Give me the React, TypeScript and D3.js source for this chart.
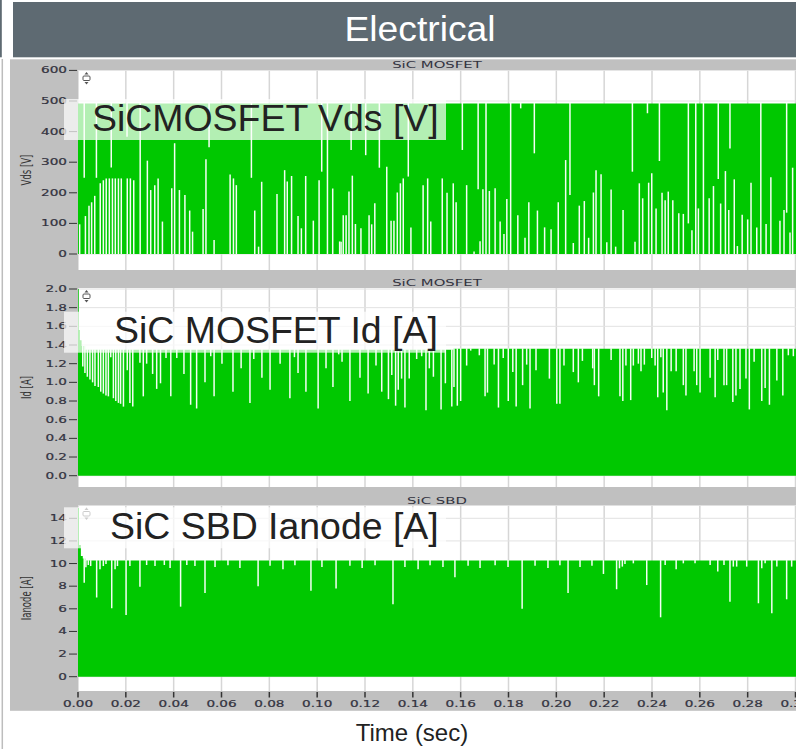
import React from 'react';
import * as d3 from 'd3';

// x axis (time, sec)
const timeTicks = [0, 0.02, 0.04, 0.06, 0.08, 0.1, 0.12, 0.14, 0.16, 0.18, 0.2, 0.22, 0.24, 0.26, 0.28, 0.3];

// y ticks per panel
const vdsTicks = [0, 100, 200, 300, 400, 500, 600];
const idTicks = [0, 0.2, 0.4, 0.6, 0.8, 1.0, 1.2, 1.4, 1.6, 1.8, 2.0];
const anodeTicks = [0, 2, 4, 6, 8, 10, 12, 14];

// upper envelope of the switching waveform [t, value]
const vdsEnvelope: [number, number][] = [[0, 492], [0.302, 492]];
const idEnvelope: [number, number][] = [
  [0, 2.0], [0.0003, 1.56], [0.0008, 1.45], [0.0015, 1.39], [0.003, 1.35], [0.155, 1.35], [0.157, 1.36], [0.302, 1.36],
];
const anodeEnvelope: [number, number][] = [
  [0, 14.9], [0.0004, 11.65], [0.0012, 10.67], [0.002, 10.45], [0.003, 10.26], [0.302, 10.26],
];

// Vds: white gaps from 0 up to level [t, level]
const vdsLowGaps: [number, number][] = [
  [0.0007, 97], [0.0031, 124], [0.0046, 158], [0.0057, 169], [0.007, 190], [0.0093, 231], [0.0106, 241], [0.0118, 247],
  [0.0131, 247], [0.0144, 247], [0.0156, 247], [0.0169, 247], [0.0181, 247], [0.0206, 247], [0.0219, 247], [0.0233, 241],
  [0.029, 305], [0.0304, 209], [0.0321, 225], [0.0335, 247], [0.0353, 106], [0.0392, 215], [0.0404, 362], [0.0424, 209],
  [0.0447, 193], [0.0467, 142], [0.0479, 73], [0.0523, 147], [0.0535, 310], [0.0569, 46], [0.0636, 260], [0.065, 247],
  [0.0662, 225], [0.0739, 142], [0.0755, 24], [0.0768, 236], [0.0832, 196], [0.0864, 274], [0.0875, 237], [0.0893, 255],
  [0.092, 124], [0.0934, 84], [0.0952, 255], [0.0984, 109], [0.1008, 241], [0.1065, 214], [0.1094, 41],
  [0.11, 40], [0.1109, 127], [0.1121, 127], [0.1133, 204], [0.1147, 256], [0.116, 98], [0.1183, 84], [0.1217, 127],
  [0.1228, 97], [0.1241, 166], [0.1291, 285], [0.1309, 109], [0.1321, 109], [0.1335, 201], [0.1348, 231], [0.136, 247],
  [0.1392, 87], [0.1443, 225], [0.1462, 247], [0.1475, 106], [0.1523, 247], [0.1543, 200], [0.1569, 231], [0.1581, 169],
  [0.1625, 225], [0.1656, 8], [0.1681, 42], [0.1693, 212], [0.172, 206], [0.1744, 215], [0.1765, 106], [0.1781, 65],
  [0.1793, 180], [0.1839, 127], [0.1869, 53], [0.1885, 169], [0.1921, 142], [0.1951, 87], [0.1978, 81], [0.2008, 169],
  [0.2039, 307], [0.2071, 36], [0.2096, 158], [0.2117, 173], [0.2135, 53], [0.2155, 201], [0.2166, 274],
  [0.2187, 261], [0.2211, 38], [0.2229, 211], [0.2248, 24], [0.2279, 144], [0.2329, 40], [0.2347, 231], [0.2361, 182],
  [0.2386, 233], [0.2399, 264], [0.2417, 149], [0.2442, 200], [0.2455, 176], [0.2468, 204], [0.2487, 176], [0.2512, 133],
  [0.2531, 131], [0.2567, 78], [0.2594, 149], [0.2639, 182], [0.2657, 222], [0.2687, 165], [0.2707, 271], [0.2721, 144],
  [0.2744, 244], [0.2757, 26], [0.2777, 128], [0.28, 113], [0.2814, 233], [0.2838, 87], [0.2877, 98], [0.2897, 251],
  [0.2935, 109], [0.2952, 144], [0.2977, 70], [0.2988, 282],
];
// Vds: white gaps from level up to the envelope (0 = full height)
const vdsHighGaps: [number, number][] = [
  [0.0026, 249], [0.0077, 249], [0.0139, 283], [0.0205, 383], [0.026, 0], [0.0548, 349], [0.0725, 249], [0.1019, 269],
  [0.1043, 0], [0.1142, 340], [0.1203, 323], [0.126, 282], [0.1381, 253], [0.1607, 340], [0.1673, 212], [0.1706, 0],
  [0.1809, 0], [0.1851, 476], [0.1908, 329], [0.2057, 193], [0.2318, 269], [0.2381, 460], [0.2431, 304], [0.2552, 100],
  [0.2583, 0], [0.2615, 0], [0.2677, 245], [0.2726, 345], [0.2855, 0], [0.2963, 135],
];

// Id: white gaps from level up to the envelope
const idGaps: [number, number][] = [
  [0.002, 1.17], [0.0029, 1.1], [0.0039, 1.06], [0.005, 1.03], [0.0061, 1.0], [0.0071, 0.96], [0.0085, 0.95], [0.0095, 0.9],
  [0.0106, 0.88], [0.0117, 0.86], [0.0127, 0.85], [0.0137, 1.27], [0.0148, 0.83], [0.0158, 0.8], [0.0169, 0.78], [0.0178, 0.77],
  [0.019, 0.74], [0.0206, 1.13], [0.0217, 0.78], [0.0229, 0.74], [0.0259, 1.21], [0.0273, 0.85], [0.0287, 1.2], [0.0312, 1.09],
  [0.0329, 0.93], [0.0345, 0.99], [0.0368, 1.26], [0.0388, 0.85], [0.0413, 1.26], [0.0443, 1.09], [0.0471, 0.76], [0.0496, 0.72],
  [0.0531, 1.0], [0.0555, 1.28], [0.0569, 0.85], [0.0602, 1.2], [0.0648, 0.9], [0.0682, 1.15], [0.0719, 0.78], [0.0735, 1.25],
  [0.0769, 1.05], [0.0803, 0.92], [0.0845, 1.2], [0.0886, 0.83], [0.0905, 1.27], [0.092, 1.1], [0.0953, 0.9], [0.1004, 0.72],
  [0.1037, 1.15], [0.1066, 0.95], [0.109, 1.3], [0.1104, 1.22], [0.1137, 0.8], [0.1179, 1.05], [0.1213, 0.88], [0.1246, 1.18],
  [0.127, 0.9], [0.1298, 0.82], [0.1312, 1.08], [0.1328, 0.75], [0.1339, 0.92], [0.1353, 1.04], [0.1367, 0.73], [0.1385, 1.04],
  [0.1416, 1.25], [0.1437, 1.28], [0.1455, 0.7], [0.1469, 1.15], [0.1486, 1.06], [0.1518, 0.71], [0.1536, 0.99], [0.1563, 0.74],
  [0.1572, 0.95], [0.1586, 0.75], [0.16, 0.8], [0.1625, 1.18], [0.1642, 1.34], [0.1678, 1.29], [0.1702, 0.85], [0.1712, 0.89],
  [0.174, 1.19], [0.1758, 0.73], [0.1778, 1.26], [0.1799, 0.8], [0.1818, 1.11], [0.1832, 0.74], [0.1859, 0.97], [0.1876, 1.19],
  [0.189, 0.72], [0.1915, 1.13], [0.1971, 1.04], [0.2002, 0.77], [0.2015, 0.77], [0.2032, 1.18], [0.2071, 1.11], [0.2092, 1.0],
  [0.2109, 1.23], [0.2152, 1.15], [0.2159, 0.97], [0.2177, 0.85], [0.2229, 1.24], [0.2266, 0.85], [0.2278, 0.8], [0.2291, 1.18],
  [0.2311, 0.81], [0.2322, 1.18], [0.2343, 1.2], [0.2354, 1.12], [0.2368, 1.19], [0.2399, 1.26], [0.2413, 1.18], [0.2424, 0.84],
  [0.2437, 1.27], [0.2447, 0.89], [0.2462, 0.7], [0.248, 1.12], [0.2501, 1.12], [0.2531, 0.97], [0.2542, 0.86], [0.2576, 1.12],
  [0.2587, 0.97], [0.2601, 0.89], [0.2643, 1.05], [0.2664, 0.84], [0.2675, 1.24], [0.2701, 0.97], [0.2712, 0.97], [0.2738, 0.79],
  [0.2751, 0.86], [0.2768, 0.93], [0.2793, 1.04], [0.2807, 0.71], [0.2827, 1.22], [0.2859, 0.8], [0.2873, 0.94], [0.2891, 0.76],
  [0.2922, 1.02], [0.2947, 0.86], [0.297, 1.29], [0.2991, 1.28],
];

// Ianode: white gaps from level up to the envelope
const anodeGaps: [number, number][] = [
  [0.0026, 8.3], [0.0033, 9.67], [0.0043, 9.87], [0.0053, 9.78], [0.0078, 7.0], [0.0092, 9.5], [0.0106, 9.78], [0.0117, 9.95],
  [0.0141, 6.05], [0.0155, 9.5], [0.0165, 9.78], [0.0201, 5.45], [0.0217, 9.78], [0.0259, 7.96], [0.0287, 9.87], [0.0322, 9.78],
  [0.0361, 9.87], [0.0385, 9.6], [0.0429, 6.19], [0.0455, 9.87], [0.0489, 9.78], [0.0531, 7.4], [0.0573, 9.7], [0.0627, 9.85],
  [0.0677, 9.6], [0.0753, 8.0], [0.0803, 9.8], [0.0857, 9.5], [0.0907, 9.85], [0.0974, 7.6], [0.102, 9.7], [0.1079, 7.8],
  [0.1137, 9.8], [0.1188, 9.6], [0.1242, 9.85], [0.1317, 6.4], [0.1367, 9.7], [0.1422, 9.5], [0.1472, 9.85], [0.1526, 9.7],
  [0.1576, 8.8], [0.1631, 9.8], [0.1681, 9.6], [0.1744, 9.85], [0.1798, 9.7], [0.1857, 6.0], [0.1911, 9.8], [0.1965, 9.6],
  [0.2015, 9.85], [0.2049, 7.4], [0.2099, 9.7], [0.2149, 9.8], [0.2197, 9.08], [0.2252, 7.73], [0.2264, 9.58], [0.2276, 9.73],
  [0.2287, 9.97], [0.2322, 10.02], [0.2378, 8.1], [0.2436, 5.25], [0.2455, 9.87], [0.2501, 9.5], [0.2531, 10.02], [0.258, 10.02],
  [0.2643, 9.87], [0.2675, 9.29], [0.2701, 9.87], [0.2726, 6.63], [0.274, 9.73], [0.2754, 9.73], [0.2796, 9.73], [0.2845, 6.49],
  [0.2859, 9.58], [0.2873, 10.02], [0.2901, 5.6], [0.2922, 9.73], [0.2963, 6.84], [0.2984, 9.73],
];

const GREEN = '#00c800';
const GAP = '#f4fff4';
const TICK_TEXT = '#33333f';
const SMALL_FONT = 'DejaVu Sans';
const BIG_FONT = 'Liberation Sans, Arial, sans-serif';
const SX = 1.6; // the screenshot is stretched horizontally

const x = d3.scaleLinear().domain([0, 0.3]).range([78, 795.5]);

type PanelProps = {
  id: string;
  title: string;
  titleY: number;
  label: string;
  ticks: number[];
  fmt: (v: number) => string;
  y: d3.ScaleLinear<number, number>;
  plotTop: number;
  plotBottom: number;
  envelope: [number, number][];
  lowGaps: [number, number][];
  highGaps: [number, number][];
  boxY: number;
  boxText: string;
  boxTextX: number;
};

function envAt(env: [number, number][], t: number) {
  const i = d3.bisector((d: [number, number]) => d[0]).right(env, t) - 1;
  return env[Math.max(0, i)][1];
}

function Panel(p: PanelProps) {
  const area = d3
    .area<[number, number]>()
    .x((d) => x(d[0]))
    .y0(p.y(0))
    .y1((d) => p.y(d[1]))
    .curve(d3.curveStepAfter);
  const iconY = p.plotTop + 8;
  return (
    <g>
      <defs>
        <clipPath id={`clip-${p.id}`}>
          <rect x={78} y={p.plotTop} width={718} height={p.plotBottom - p.plotTop} />
        </clipPath>
      </defs>
      <text
        transform={`translate(437,${p.titleY}) scale(1.75,1)`}
        textAnchor="middle"
        fontFamily={SMALL_FONT}
        fontSize={8.5}
        fill={TICK_TEXT}
      >
        {p.title}
      </text>
      <rect x={78} y={p.plotTop} width={718} height={p.plotBottom - p.plotTop} fill="#ffffff" />
      <g clipPath={`url(#clip-${p.id})`}>
        {timeTicks.map((t) => (
          <line key={`vx${t}`} x1={x(t)} x2={x(t)} y1={p.plotTop} y2={p.plotBottom} stroke="#d6d6d6" strokeWidth={1.5} />
        ))}
        {p.ticks.map((v) => (
          <line key={`hy${v}`} x1={78} x2={796} y1={p.y(v)} y2={p.y(v)} stroke="#e2e2e2" strokeWidth={1} />
        ))}
        <path d={area(p.envelope) || ''} fill={GREEN} />
        {p.lowGaps.map(([t, v], i) => (
          <line key={`l${i}`} x1={x(t)} x2={x(t)} y1={p.y(0)} y2={p.y(v)} stroke={GAP} strokeWidth={1.5} />
        ))}
        {p.highGaps.map(([t, v], i) => (
          <line key={`h${i}`} x1={x(t)} x2={x(t)} y1={p.y(v)} y2={p.y(envAt(p.envelope, t)) - 0.5} stroke={GAP} strokeWidth={1.5} />
        ))}
      </g>
      {p.ticks.map((v) => (
        <g key={`t${v}`}>
          <line x1={69} x2={77} y1={p.y(v)} y2={p.y(v)} stroke="#333" strokeWidth={1} />
          <text
            transform={`translate(67,${p.y(v) + 3}) scale(${SX},1)`}
            textAnchor="end"
            fontFamily={SMALL_FONT}
            fontSize={8.5}
            fill={TICK_TEXT}
            stroke={TICK_TEXT}
            strokeWidth={0.2}
          >
            {p.fmt(v)}
          </text>
        </g>
      ))}
      <text
        transform={`translate(31,${(p.plotTop + p.plotBottom) / 2}) scale(${SX},1) rotate(-90)`}
        textAnchor="middle"
        fontFamily={SMALL_FONT}
        fontSize={8.5}
        fill="#333"
      >
        {p.label}
      </text>
      {/* cursor icon */}
      <g stroke="#555" strokeWidth={1} fill="#fff">
        <rect x={83} y={iconY - 2} width={7} height={4.5} rx={1} />
        <path d={`M84.5,${iconY - 3.5} L86.5,${iconY - 6} L88.5,${iconY - 3.5} Z`} fill="#555" stroke="none" />
        <path d={`M84.5,${iconY + 4} L86.5,${iconY + 6.5} L88.5,${iconY + 4} Z`} fill="#555" stroke="none" />
      </g>
      <rect x={64} y={p.boxY} width={382} height={41} fill="#ffffff" fillOpacity={0.7} />
      <text
        transform={`translate(${p.boxTextX},${p.boxY + 31.5}) scale(1.04,1)`}
        fontFamily={BIG_FONT}
        fontSize={36}
        fill="#222"
      >
        {p.boxText}
      </text>
    </g>
  );
}

export default function App() {
  const yVds = d3.scaleLinear().domain([0, 600]).range([254, 70.4]);
  const yId = d3.scaleLinear().domain([0, 2]).range([475.7, 289]);
  const yAn = d3.scaleLinear().domain([0, 14]).range([676.7, 518.3]);
  return (
    <svg width={796} height={749} style={{ position: 'absolute', left: 0, top: 0, display: 'block' }}>
      <rect width={796} height={749} fill="#ffffff" />
      {/* slide header */}
      <rect x={0} y={0} width={1.8} height={57.3} fill="#5e6a72" />
      <rect x={13} y={2} width={783} height={55.3} fill="#5e6a72" />
      <text
        transform="translate(420,41) scale(1.035,1)"
        textAnchor="middle"
        fontFamily={BIG_FONT}
        fontSize={36}
        fill="#ffffff"
      >
        Electrical
      </text>
      <line x1={2.3} x2={2.3} y1={59} y2={749} stroke="#bdbdbd" strokeWidth={1.5} />
      {/* chart background */}
      <rect x={10} y={59.3} width={786} height={651.5} fill="#c0c0c0" />
      <Panel
        id="vds"
        title="SiC MOSFET"
        titleY={68}
        label="Vds [V]"
        ticks={vdsTicks}
        fmt={(v) => String(v)}
        y={yVds}
        plotTop={70}
        plotBottom={270}
        envelope={vdsEnvelope}
        lowGaps={vdsLowGaps}
        highGaps={vdsHighGaps}
        boxY={99}
        boxText="SiCMOSFET Vds [V]"
        boxTextX={92}
      />
      <Panel
        id="id"
        title="SiC MOSFET"
        titleY={286}
        label="Id [A]"
        ticks={idTicks}
        fmt={(v) => v.toFixed(1)}
        y={yId}
        plotTop={288}
        plotBottom={487}
        envelope={idEnvelope}
        lowGaps={[]}
        highGaps={idGaps}
        boxY={311.7}
        boxText="SiC MOSFET Id [A]"
        boxTextX={114}
      />
      <Panel
        id="an"
        title="SiC SBD"
        titleY={503.5}
        label="Ianode [A]"
        ticks={anodeTicks}
        fmt={(v) => String(v)}
        y={yAn}
        plotTop={505.5}
        plotBottom={691}
        envelope={anodeEnvelope}
        lowGaps={[]}
        highGaps={anodeGaps}
        boxY={507.3}
        boxText="SiC SBD Ianode [A]"
        boxTextX={110}
      />
      {/* time axis */}
      {timeTicks.map((t) => (
        <g key={`x${t}`}>
          <line x1={x(t)} x2={x(t)} y1={692} y2={697.5} stroke="#333" strokeWidth={1.5} />
          <text
            transform={`translate(${x(t)},706.7) scale(${SX},1)`}
            textAnchor="middle"
            fontFamily={SMALL_FONT}
            fontSize={8.5}
            fill={TICK_TEXT}
            stroke={TICK_TEXT}
            strokeWidth={0.2}
          >
            {t.toFixed(2)}
          </text>
        </g>
      ))}
      <text x={412} y={741} textAnchor="middle" fontFamily={BIG_FONT} fontSize={24} fill="#222">
        Time (sec)
      </text>
    </svg>
  );
}
